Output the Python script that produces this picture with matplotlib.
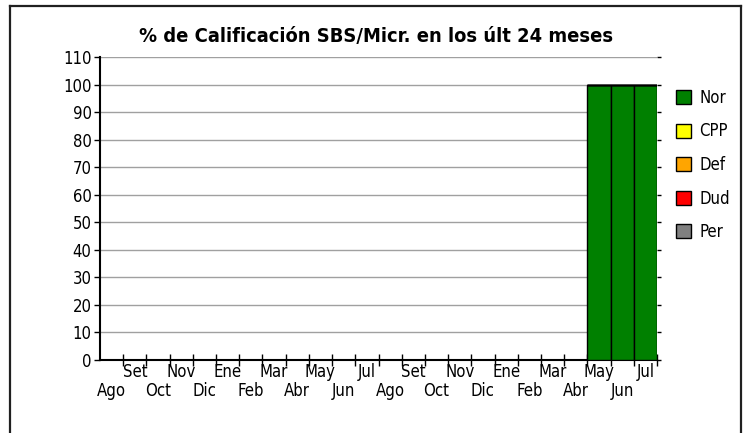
import matplotlib
matplotlib.use("Agg")
import matplotlib.pyplot as plt
import numpy as np
from matplotlib.patches import Rectangle
from matplotlib.lines import Line2D

months = ["Ago", "Set", "Oct", "Nov", "Dic", "Ene", "Feb", "Mar", "Abr", "May", "Jun", "Jul",
          "Ago", "Set", "Oct", "Nov", "Dic", "Ene", "Feb", "Mar", "Abr", "May", "Jun", "Jul"]
nor = [0]*21 + [100, 100, 100]
cpp = [0]*24
dfe = [0]*24
dud = [0]*24
per = [0]*24
series_names = ["Nor", "CPP", "Def", "Dud", "Per"]
series_values = [nor, cpp, dfe, dud, per]
series_colors = ["#008000", "#FFFF00", "#FFA500", "#FF0000", "#808080"]
yticks = list(range(0, 111, 10))

plt.rcParams['font.family'] = ["DejaVu Sans"]
plt.rcParams['font.stretch'] = "condensed"

W, H = 747, 433
fig = plt.figure(figsize=(W/100, H/100), dpi=100)
fig.patch.set_facecolor("white")

# outer frame (left, top, right)
fig.add_artist(Line2D([9.5/W, 9.5/W], [0, 1-5.5/H], transform=fig.transFigure, color="#202020", lw=1.6))
fig.add_artist(Line2D([9.5/W, 740.5/W], [1-5.5/H, 1-5.5/H], transform=fig.transFigure, color="#202020", lw=1.6))
fig.add_artist(Line2D([740.5/W, 740.5/W], [0, 1-5.5/H], transform=fig.transFigure, color="#202020", lw=1.6))

ax = fig.add_axes([100/W, (H-360)/H, (657-100)/W, (360-57)/H])
x = np.arange(len(months))
bottom = np.zeros(len(months))
handles = []
for name, vals, col in zip(series_names, series_values, series_colors):
    vals = np.array(vals, dtype=float)
    ax.bar(x, vals, width=1.0, bottom=bottom, color=col, edgecolor="black",
           linewidth=1.0, label=name, zorder=3)
    bottom += vals
    handles.append(Rectangle((0, 0), 1, 1, facecolor=col, edgecolor="black", linewidth=1.0))

ax.set_xlim(-0.5, len(months) - 0.5)
ax.set_ylim(0, 110)
ax.set_yticks(yticks)
ax.set_yticklabels([str(v) for v in yticks], fontsize=12)
ax.yaxis.grid(True, color="#a0a0a0", linewidth=1.0, zorder=0)
ax.set_axisbelow(True)

ax.set_xticks(np.arange(0.5, len(months), 1.0))
ax.set_xticklabels([])
ax.tick_params(axis="x", which="major", direction="inout", length=8, width=1.0, color="black")
ax.tick_params(axis="y", which="major", direction="out", length=4, width=1.0, color="black",
               right=True, pad=2)
for t in ax.yaxis.get_major_ticks():
    t.tick2line.set_color("#a0a0a0")
    t.tick2line.set_markersize(3)

# two-row month labels
trans = ax.get_xaxis_transform()
ax_h = 360 - 57
for i, m in enumerate(months):
    ypix = 372 if i % 2 == 1 else 391
    ax.text(i, -(ypix - 360) / ax_h, m, transform=trans, ha="center", va="center",
            fontsize=12, clip_on=False)

for s in ["top", "right"]:
    ax.spines[s].set_visible(False)
for s in ["left", "bottom"]:
    ax.spines[s].set_linewidth(1.5)
    ax.spines[s].set_color("black")

fig.text(376/W, 1-37/H, "% de Calificación SBS/Micr. en los últ 24 meses", ha="center", va="center",
         fontsize=14.4, fontweight="bold")

fig.legend(handles, series_names, loc="upper left", bbox_to_anchor=(676/W, 1-89/H),
           frameon=False, fontsize=12, handlelength=0.9, handleheight=0.9,
           labelspacing=0.93, handletextpad=0.5, borderpad=0, borderaxespad=0)

fig.savefig("out.png", dpi=100, facecolor="white")
